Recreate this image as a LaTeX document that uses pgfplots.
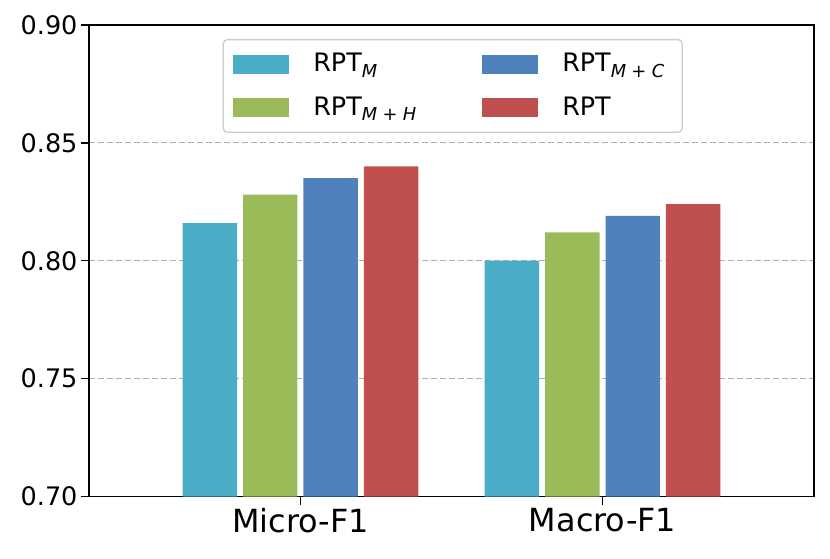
\documentclass[border=0pt]{standalone}
\usepackage{pgfplots}
\pgfplotsset{compat=1.18}
\usepackage{fontspec}
\setmainfont{DejaVu Sans}
\definecolor{cA}{HTML}{4BACC6}
\definecolor{cB}{HTML}{9BBB59}
\definecolor{cC}{HTML}{4F81BD}
\definecolor{cD}{HTML}{C0504D}
\definecolor{gridc}{HTML}{B0B0B0}
\definecolor{legc}{HTML}{CCCCCC}
\newcommand\sub[1]{\raisebox{-5.5bp}{\fontsize{17.9}{18}\selectfont\itshape #1}}
\newcommand\plus{\hspace{0.3em}{\upshape +}\hspace{0.3em}}
\pgfplotsset{
  mybar/.style={ybar, bar width=0.18, bar shift=0pt, fill=#1, draw=none,
    legend image code/.code={\fill[#1, sharp corners] (0bp,-9.5bp) rectangle (56bp,9.5bp);}},
}
\begin{document}
\begin{tikzpicture}
\useasboundingbox (-89bp,-62.5bp) rectangle ++(830bp,559bp);
\begin{axis}[
  at={(0,0)}, anchor=south west,
  scale only axis, width=725bp, height=471.5bp,
  xmin=-0.7, xmax=1.7, ymin=0.70, ymax=0.90,
  xtick={0,1}, xticklabels={Micro-F1,Macro-F1},
  ytick={0.70,0.75,0.80,0.85,0.90}, yticklabels={0.70,0.75,0.80,0.85,0.90},
  tick pos=left, tick align=outside, major tick length=8bp,
  tick style={line width=1.3bp, black},
  axis line style={line width=1.4bp},
  ymajorgrids, major grid style={gridc, line width=1.2bp, dash pattern=on 6bp off 3bp},
  yticklabel style={font=\fontsize{25.6}{30}\selectfont},
  xticklabel style={font=\fontsize{32}{36}\selectfont},
  legend columns=2,
  legend cell align=left,
  legend style={at={(0.1844,0.9703)}, anchor=north west, draw=legc, line width=1.3bp,
    rounded corners=4bp, fill=white, inner xsep=10bp, inner ysep=10bp,
    font=\fontsize{25.5}{30}\selectfont, column sep=24bp, row sep=14.6bp,
    /tikz/every even column/.append style={column sep=66bp},
    nodes={inner sep=0pt, text height=22bp, text depth=7bp}},
]
\addplot[mybar=cA] coordinates {(-0.3,0.816) (0.7,0.800)};
\addlegendentry{RPT\sub{M}}
\addplot[mybar=cC] coordinates {(0.1,0.835) (1.1,0.819)};
\addlegendentry{RPT\sub{M\plus C}\rule{8bp}{0pt}}
\addplot[mybar=cB] coordinates {(-0.1,0.828) (0.9,0.812)};
\addlegendentry{RPT\sub{M\plus H}}
\addplot[mybar=cD] coordinates {(0.3,0.840) (1.3,0.824)};
\addlegendentry{RPT}
\end{axis}
\end{tikzpicture}
\end{document}
